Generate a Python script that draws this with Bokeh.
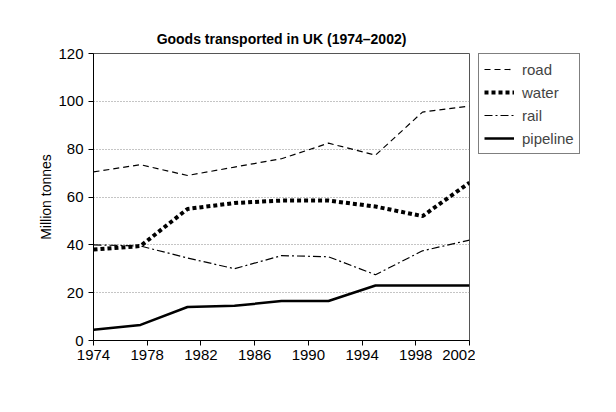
from bokeh.plotting import figure
from bokeh.layouts import row
from bokeh.models import FixedTicker, Legend, LegendItem, Range1d
from bokeh.embed import file_html
from bokeh.resources import INLINE

years = [1974, 1977.5, 1981, 1984.5, 1988, 1991.5, 1995, 1998.5, 2002]
road = [70.5, 73.5, 69, 72.5, 76, 82.5, 77.5, 95.5, 98]
water = [38, 39.5, 55, 57.5, 58.5, 58.5, 56, 52, 66]
rail = [40, 39.5, 34.5, 30, 35.5, 35, 27.5, 37.5, 42]
pipeline = [4.5, 6.5, 14, 14.5, 16.5, 16.5, 23, 23, 23]
x_ticks = [1974, 1978, 1982, 1986, 1990, 1994, 1998, 2002]
y_ticks = [0, 20, 40, 60, 80, 100, 120]
series_names = ["road", "water", "rail", "pipeline"]

FONT = "Liberation Sans"

styles = [
    dict(line_color="black", line_width=1.2, line_dash="6 4"),
    dict(line_color="black", line_width=4, line_dash="4 3"),
    dict(line_color="black", line_width=1.2, line_dash="8 3 2 3"),
    dict(line_color="black", line_width=2.5),
]

p = figure(width=475, height=396, output_backend="svg", toolbar_location=None,
           x_range=Range1d(1974, 2002), y_range=Range1d(0, 120),
           min_border_left=93, min_border_right=6, min_border_top=53,
           min_border_bottom=56, title="Goods transported in UK (1974\u20132002)")

p.title.align = "center"
p.title.text_font = FONT
p.title.text_font_size = "14px"
p.title.text_font_style = "bold"
p.title.text_color = "black"
p.title.standoff = 14

p.outline_line_color = "#555555"
p.outline_line_width = 1
p.background_fill_color = "white"
p.border_fill_color = "white"

p.xaxis.ticker = FixedTicker(ticks=x_ticks)
p.yaxis.ticker = FixedTicker(ticks=y_ticks)
p.xgrid.visible = False
p.ygrid.grid_line_color = "#8a8a8a"
p.ygrid.grid_line_dash = "1 2"
p.ygrid.grid_line_width = 1

for ax in (p.xaxis[0], p.yaxis[0]):
    ax.axis_line_color = "black"
    ax.major_tick_line_color = "black"
    ax.minor_tick_line_color = None
    ax.major_tick_in = 0
    ax.major_tick_out = 5
    ax.major_label_text_font = FONT
    ax.major_label_text_font_size = "15px"
    ax.major_label_text_color = "black"

p.xaxis.major_label_standoff = 4
p.yaxis.major_label_standoff = 5

p.yaxis.axis_label = "Million tonnes"
p.yaxis.axis_label_text_font = FONT
p.yaxis.axis_label_text_font_size = "14px"
p.yaxis.axis_label_text_font_style = "normal"
p.yaxis.axis_label_text_color = "black"
p.yaxis.axis_label_standoff = 1

for ys, st in zip([road, water, rail, pipeline], styles):
    p.line(years, ys, **st)

# legend panel (separate figure to the right of the chart)
lg = figure(width=125, height=396, output_backend="svg", toolbar_location=None,
            x_range=Range1d(0, 1), y_range=Range1d(0, 1),
            min_border_left=0, min_border_right=0, min_border_top=0,
            min_border_bottom=0)
lg.axis.visible = False
lg.grid.visible = False
lg.outline_line_color = None
lg.border_fill_color = "white"
items = []
for name, st in zip(series_names, styles):
    r = lg.line([-10, -9], [-10, -9], **st)
    items.append(LegendItem(label=name, renderers=[r]))

legend = Legend(items=items, location=(3, 186))
legend.border_line_color = "black"
legend.border_line_width = 1
legend.background_fill_alpha = 1
legend.label_text_font = FONT
legend.label_text_font_size = "15px"
legend.glyph_width = 30
legend.glyph_height = 20
legend.label_height = 20
legend.spacing = 3
legend.padding = 5
legend.margin = 0
legend.label_standoff = 8
lg.add_layout(legend, "center")

layout = row(p, lg)
open("out.html", "w").write(file_html(layout, INLINE))
